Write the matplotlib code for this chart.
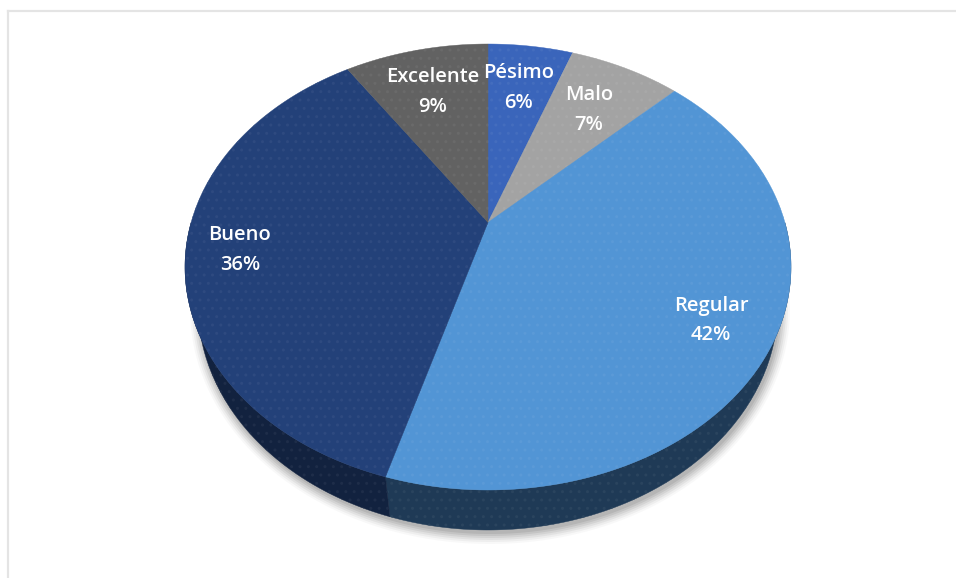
#Pie chart with perspective (3D look)
import numpy as np
import matplotlib
matplotlib.use('Agg')
import matplotlib.pyplot as plt
from matplotlib.colors import to_rgb

#Data
categories = ['Pésimo', 'Malo', 'Regular', 'Bueno', 'Excelente']
values = [5.5, 7.2, 41.8, 36.2, 9.3]

top_colors = ['#3a65bb', '#a3a3a3', '#5295d5', '#234179', '#626262']
side_colors = ['#1f3a56', '#12223f']

plt.rcParams['font.family'] = ['Open Sans', 'DejaVu Sans']

fig = plt.figure(figsize=(9.56, 5.78), dpi=100)
ax = fig.add_axes([0, 0, 1, 1])
ax.set_xlim(0, 956)
ax.set_ylim(578, 0)
ax.axis('off')


#Map slice angle (degrees clockwise from the top) to a point on the tilted disc
def rim(ang, cx, cy, a, b, k):
    u = np.sin(np.radians(ang))
    v = np.cos(np.radians(ang))
    d = 1 + k * v
    return cx + a * u * np.sqrt(1 - k * k) / d, cy - b * (v + k) / d


def wedge(start, end):
    x, y = rim(np.linspace(start, end, 200), 488, 267, 303, 223, 0.2)
    return np.r_[488, x], np.r_[267 - 223 * 0.2, y]


def side(start, end):
    ang = np.linspace(start, end, 200)
    x1, y1 = rim(ang, 488, 267, 303, 223, 0.2)
    x2, y2 = rim(ang, 488, 305, 290, 225, 0.2)
    return np.r_[x1, x2[::-1]], np.r_[y1, y2[::-1]]


#Dotted texture of the original
def dots(x, y, color):
    light = np.array(to_rgb(color)) * 0.95 + 0.05
    ax.fill(x, y, facecolor='none', edgecolor=light, hatch='..', lw=0)


edges = np.r_[0, np.cumsum(values)] / np.sum(values) * 360

#Frame
ax.plot([8, 8], [578, 11], color='#e4e4e4', lw=1.6)
ax.plot([8, 956], [11, 11], color='#e4e4e4', lw=1.6)

#Soft shadow below the pie
t = np.linspace(0, 2 * np.pi, 300)
for grow, alpha in zip([10, 8, 6, 4, 2, 0], [0.05, 0.08, 0.11, 0.14, 0.18, 0.22]):
    ax.fill(490 + (290 + grow) * np.cos(t), 309 + (225 + grow) * np.sin(t),
            color='#808080', alpha=alpha, lw=0)

#Side of the pie, split where Regular meets Bueno
x, y = side(90, edges[3])
ax.fill(x, y, color=side_colors[0], lw=0.3)
dots(x, y, side_colors[0])
x, y = side(edges[3], 270)
ax.fill(x, y, color=side_colors[1], lw=0.3)
dots(x, y, side_colors[1])

#Top of the pie
for i in range(len(values)):
    x, y = wedge(edges[i], edges[i + 1])
    ax.fill(x, y, facecolor=top_colors[i], edgecolor=top_colors[i], lw=0.3)
    dots(x, y, top_colors[i])

#Labels
label_pos = [(519, 88), (589, 110), (711, 320), (240, 250), (433, 92)]
for name, val, pos in zip(categories, values, label_pos):
    ax.text(pos[0], pos[1], f'{name}\n{val:.0f}%', color='white', fontsize=14.5,
            fontweight='semibold', ha='center', va='center', linespacing=1.6)

fig.savefig('out.png', dpi=100)
